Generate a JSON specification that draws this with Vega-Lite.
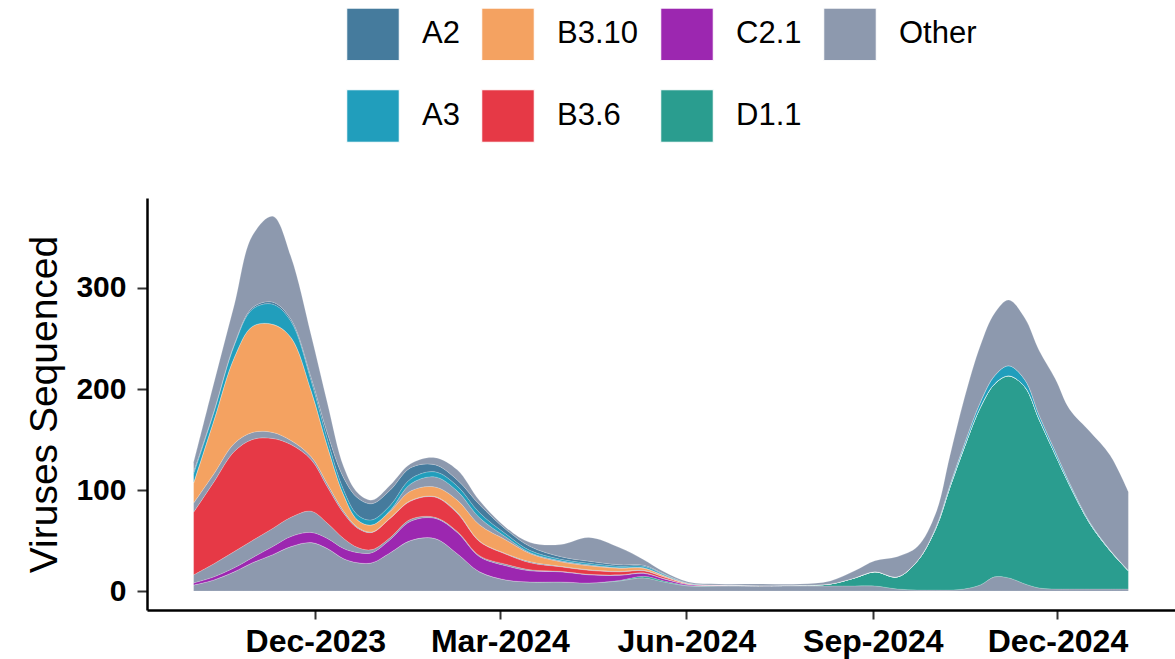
{
  "$schema": "https://vega.github.io/schema/vega-lite/v6.json",
  "width": 1028,
  "height": 412,
  "autosize": "none",
  "padding": {"left": 147, "top": 198, "right": 0, "bottom": 49},
  "background": "white",
  "config": {"view": {"stroke": null}, "font": "Liberation Sans"},
  "data": {
    "format": {"parse": {"date": "date:'%Y-%m-%d'"}},
    "values": [
      {"date":"2023-10-02","O1":6,"D11":0,"C21":2,"O2":8,"B36":62,"O3":9,"B310":20,"O5":0,"A3":9,"A2":2,"O4":9},
      {"date":"2023-10-12","O1":11,"D11":0,"C21":3,"O2":13,"B36":81,"O3":8,"B310":53,"O5":0,"A3":8,"A2":1,"O4":28},
      {"date":"2023-10-22","O1":19,"D11":0,"C21":4,"O2":16,"B36":99,"O3":8,"B310":85,"O5":0,"A3":12,"A2":1,"O4":39},
      {"date":"2023-10-31","O1":28,"D11":0,"C21":5,"O2":17,"B36":100,"O3":7,"B310":105,"O5":0,"A3":17,"A2":1.5,"O4":71.5},
      {"date":"2023-11-10","O1":36,"D11":0,"C21":8,"O2":18,"B36":89,"O3":6,"B310":107,"O5":0,"A3":20,"A2":2,"O4":85},
      {"date":"2023-11-19","O1":44,"D11":0,"C21":10,"O2":19,"B36":72,"O3":4,"B310":102,"O5":0,"A3":16,"A2":2,"O4":62},
      {"date":"2023-11-29","O1":48,"D11":0,"C21":10,"O2":21,"B36":51,"O3":3,"B310":65,"O5":0,"A3":10,"A2":3,"O4":42},
      {"date":"2023-12-07","O1":42,"D11":0,"C21":10,"O2":15,"B36":36,"O3":3,"B310":37,"O5":0,"A3":7,"A2":6,"O4":30},
      {"date":"2023-12-15","O1":32,"D11":0,"C21":10,"O2":10,"B36":25,"O3":2,"B310":16,"O5":0,"A3":5,"A2":12,"O4":11},
      {"date":"2023-12-22","O1":28,"D11":0,"C21":10,"O2":5,"B36":19,"O3":1,"B310":7,"O5":0,"A3":5,"A2":17,"O4":5},
      {"date":"2023-12-29","O1":28,"D11":0,"C21":10,"O2":3,"B36":17,"O3":0.5,"B310":7,"O5":0,"A3":5,"A2":16,"O4":3.5},
      {"date":"2024-01-07","O1":38,"D11":0,"C21":13,"O2":2,"B36":19,"O3":0.5,"B310":6.5,"O5":1,"A3":5,"A2":15,"O4":5},
      {"date":"2024-01-17","O1":50,"D11":0,"C21":19,"O2":2,"B36":18,"O3":0.5,"B310":9.5,"O5":7,"A3":5,"A2":11,"O4":4},
      {"date":"2024-01-29","O1":52,"D11":0,"C21":20,"O2":1,"B36":20,"O3":0.5,"B310":9.5,"O5":10,"A3":5,"A2":7,"O4":7},
      {"date":"2024-02-09","O1":37,"D11":0,"C21":21,"O2":1,"B36":18,"O3":1,"B310":12,"O5":9,"A3":5,"A2":6,"O4":10},
      {"date":"2024-02-20","O1":19,"D11":0,"C21":15,"O2":1,"B36":14,"O3":0.5,"B310":16,"O5":7,"A3":5,"A2":8,"O4":4},
      {"date":"2024-03-04","O1":11,"D11":0,"C21":14,"O2":1.5,"B36":10,"O3":0.5,"B310":13.5,"O5":3,"A3":3,"A2":4.5,"O4":2},
      {"date":"2024-03-16","O1":9,"D11":0,"C21":11,"O2":1,"B36":7,"O3":1,"B310":8,"O5":1,"A3":2,"A2":4,"O4":4},
      {"date":"2024-03-31","O1":9,"D11":0,"C21":10,"O2":0.5,"B36":4.5,"O3":0.5,"B310":4.5,"O5":1,"A3":1.5,"A2":2.5,"O4":12},
      {"date":"2024-04-14","O1":8,"D11":0,"C21":8,"O2":0.5,"B36":4,"O3":0.5,"B310":4,"O5":1,"A3":1.5,"A2":2,"O4":23.5},
      {"date":"2024-04-29","O1":10,"D11":0.5,"C21":5,"O2":0.5,"B36":3,"O3":0.5,"B310":3,"O5":0.5,"A3":1.5,"A2":1.5,"O4":17},
      {"date":"2024-05-11","O1":13,"D11":1.5,"C21":3,"O2":0.5,"B36":2,"O3":0.5,"B310":2,"O5":0.5,"A3":1.5,"A2":1,"O4":5.5},
      {"date":"2024-05-21","O1":9,"D11":1,"C21":2,"O2":0.3,"B36":1.5,"O3":0.3,"B310":1,"O5":0.3,"A3":1,"A2":0.5,"O4":2.1},
      {"date":"2024-06-02","O1":5,"D11":0.5,"C21":1,"O2":0,"B36":0.5,"O3":0,"B310":0.3,"O5":0,"A3":0.3,"A2":0.2,"O4":1.2},
      {"date":"2024-06-17","O1":5,"D11":0.2,"C21":0.5,"O2":0,"B36":0.2,"O3":0,"B310":0,"O5":0,"A3":0,"A2":0,"O4":1.1},
      {"date":"2024-07-07","O1":5,"D11":0.3,"C21":0,"O2":0,"B36":0,"O3":0,"B310":0,"O5":0,"A3":0,"A2":0,"O4":1.7},
      {"date":"2024-07-27","O1":5,"D11":0.7,"C21":0,"O2":0,"B36":0,"O3":0,"B310":0,"O5":0,"A3":0,"A2":0,"O4":1.3},
      {"date":"2024-08-11","O1":5,"D11":2,"C21":0,"O2":0,"B36":0,"O3":0,"B310":0,"O5":0,"A3":0,"A2":0,"O4":3},
      {"date":"2024-08-23","O1":5,"D11":8,"C21":0,"O2":0,"B36":0,"O3":0,"B310":0,"O5":0,"A3":0,"A2":0,"O4":7},
      {"date":"2024-09-02","O1":5,"D11":14,"C21":0,"O2":0,"B36":0,"O3":0,"B310":0,"O5":0,"A3":0,"A2":0,"O4":11},
      {"date":"2024-09-13","O1":2,"D11":12,"C21":0,"O2":0,"B36":0,"O3":0,"B310":0,"O5":0,"A3":0,"A2":0,"O4":20},
      {"date":"2024-09-23","O1":1,"D11":29,"C21":0,"O2":0,"B36":0,"O3":0,"B310":0,"O5":0,"A3":0,"A2":0,"O4":14},
      {"date":"2024-10-02","O1":1,"D11":61,"C21":0,"O2":0,"B36":0,"O3":0,"B310":0,"O5":0,"A3":1,"A2":0,"O4":14},
      {"date":"2024-10-09","O1":1,"D11":102,"C21":0,"O2":0,"B36":0,"O3":0,"B310":0,"O5":0,"A3":2,"A2":0,"O4":29},
      {"date":"2024-10-16","O1":2,"D11":140,"C21":0,"O2":0,"B36":0,"O3":0,"B310":0,"O5":0,"A3":3,"A2":0,"O4":45},
      {"date":"2024-10-24","O1":6,"D11":176,"C21":0,"O2":0,"B36":0,"O3":0,"B310":0,"O5":0,"A3":5,"A2":0,"O4":56},
      {"date":"2024-10-31","O1":14,"D11":191,"C21":0,"O2":0,"B36":0,"O3":0,"B310":0,"O5":0,"A3":8,"A2":0,"O4":62},
      {"date":"2024-11-07","O1":13,"D11":200,"C21":0,"O2":0,"B36":0,"O3":0,"B310":0,"O5":0,"A3":10,"A2":0,"O4":65},
      {"date":"2024-11-15","O1":7,"D11":195,"C21":0,"O2":0,"B36":0,"O3":0,"B310":0,"O5":0,"A3":7,"A2":0,"O4":61},
      {"date":"2024-11-22","O1":3,"D11":167,"C21":0,"O2":0,"B36":0,"O3":0,"B310":0,"O5":0,"A3":4,"A2":0,"O4":64},
      {"date":"2024-11-30","O1":2,"D11":133,"C21":0,"O2":0,"B36":0,"O3":0,"B310":0,"O5":0,"A3":3,"A2":0,"O4":72},
      {"date":"2024-12-07","O1":2,"D11":103,"C21":0,"O2":0,"B36":0,"O3":0,"B310":0,"O5":0,"A3":2,"A2":0,"O4":73},
      {"date":"2024-12-17","O1":2,"D11":65,"C21":0,"O2":0,"B36":0,"O3":0,"B310":0,"O5":0,"A3":1,"A2":0,"O4":90},
      {"date":"2024-12-27","O1":2,"D11":38,"C21":0,"O2":0,"B36":0,"O3":0,"B310":0,"O5":0,"A3":0.5,"A2":0,"O4":94},
      {"date":"2025-01-05","O1":2,"D11":18,"C21":0,"O2":0,"B36":0,"O3":0,"B310":0,"O5":0,"A3":0.3,"A2":0,"O4":78}
    ]
  },
  "transform": [
    {"fold": ["O1","D11","C21","O2","B36","O3","B310","O5","A3","A2","O4"], "as": ["series","n"]},
    {"lookup": "series", "from": {"data": {"values": [
      {"series":"O1","lineage":"Other","rank":1},
      {"series":"D11","lineage":"D1.1","rank":2},
      {"series":"C21","lineage":"C2.1","rank":3},
      {"series":"O2","lineage":"Other","rank":4},
      {"series":"B36","lineage":"B3.6","rank":5},
      {"series":"O3","lineage":"Other","rank":6},
      {"series":"B310","lineage":"B3.10","rank":7},
      {"series":"O5","lineage":"Other","rank":8},
      {"series":"A3","lineage":"A3","rank":9},
      {"series":"A2","lineage":"A2","rank":10},
      {"series":"O4","lineage":"Other","rank":11}
    ]}, "key": "series", "fields": ["lineage","rank"]}}
  ],
  "mark": {"type": "area", "interpolate": "catmull-rom", "stroke": "#ffffff", "strokeWidth": 0.5, "strokeOpacity": 0.35},
  "encoding": {
    "x": {
      "field": "date", "type": "temporal",
      "scale": {"domain": [{"year": 2023, "month": 9, "date": 9}, {"year": 2025, "month": 1, "date": 28}]},
      "axis": {
        "title": null, "format": "%b-%Y", "grid": false,
        "values": [{"year": 2023, "month": 12, "date": 1}, {"year": 2024, "month": 3, "date": 1}, {"year": 2024, "month": 6, "date": 1}, {"year": 2024, "month": 9, "date": 1}, {"year": 2024, "month": 12, "date": 1}],
        "labelFont": "Liberation Sans", "labelFontSize": 32, "labelFontWeight": "bold", "labelColor": "#000000",
        "labelPadding": 7, "tickSize": 9, "tickWidth": 2, "tickColor": "#333333",
        "domainColor": "#000000", "domainWidth": 2.5
      }
    },
    "y": {
      "field": "n", "type": "quantitative", "stack": "zero",
      "scale": {"domain": [-18.8, 389.1], "nice": false, "zero": false},
      "axis": {
        "title": "Viruses Sequenced", "values": [0, 100, 200, 300], "grid": false,
        "labelFont": "Liberation Sans", "labelFontSize": 30, "labelFontWeight": "bold", "labelColor": "#000000",
        "labelPadding": 11, "tickSize": 10, "tickWidth": 2, "tickColor": "#333333",
        "domainColor": "#000000", "domainWidth": 2.5,
        "titleFont": "Liberation Sans", "titleFontSize": 39, "titleFontWeight": "normal", "titleColor": "#000000",
        "titleAngle": -90, "titleX": -91, "titleY": 206, "titleAlign": "center", "titleBaseline": "alphabetic"
      }
    },
    "color": {
      "field": "lineage", "type": "nominal",
      "scale": {
        "domain": ["A2", "A3", "B3.10", "B3.6", "C2.1", "D1.1", "Other"],
        "range": ["#457B9D", "#219EBC", "#F4A261", "#E63946", "#9C27B0", "#2A9D8F", "#8D99AE"]
      },
      "legend": {
        "title": null, "orient": "none", "legendX": 199, "legendY": -191, "columns": 4,
        "symbolType": "square", "symbolSize": 2756, "symbolStrokeColor": "#ffffff", "symbolStrokeWidth": 1, "symbolOpacity": 1,
        "labelFont": "Liberation Sans", "labelFontSize": 31, "labelColor": "#000000", "labelOffset": 22,
        "columnPadding": 19, "rowPadding": 24, "padding": 0
      }
    },
    "detail": {"field": "series"},
    "order": {"field": "rank", "type": "quantitative"}
  }
}
